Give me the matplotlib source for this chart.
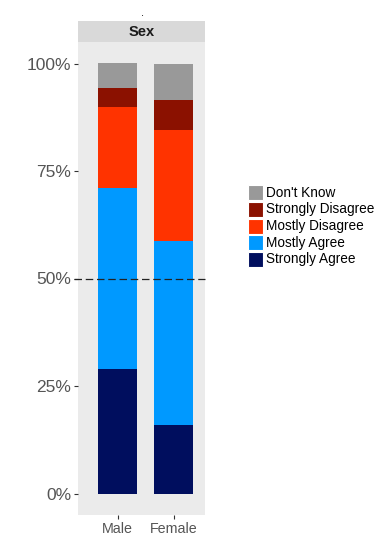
import matplotlib
matplotlib.use('Agg')
import matplotlib.pyplot as plt
from matplotlib.patches import Rectangle
import numpy as np

plt.rcParams['font.family'] = ['Liberation Sans', 'DejaVu Sans']

# data (proportions)
groups = ['Male', 'Female']
responses = ['Strongly Agree', 'Mostly Agree', 'Mostly Disagree',
             'Strongly Disagree', "Don't Know"]
strongly_agree = [0.290, 0.160]
mostly_agree = [0.421, 0.428]
mostly_disagree = [0.187, 0.257]
strongly_disagree = [0.044, 0.070]
dont_know = [0.058, 0.085]
yticks = [0, 0.25, 0.5, 0.75, 1.0]
ytick_labels = ['0%', '25%', '50%', '75%', '100%']

COLORS = {
    'Strongly Agree': '#000E5E',
    'Mostly Agree': '#0099FF',
    'Mostly Disagree': '#FF3300',
    'Strongly Disagree': '#8B1100',
    "Don't Know": '#999999',
}

W, H = 381, 544
fig = plt.figure(figsize=(W / 100, H / 100), dpi=100)

# panel in pixel coords
px_l, px_r, px_t, px_b = 78, 205, 42, 515
ax = fig.add_axes([px_l / W, 1 - px_b / H, (px_r - px_l) / W, (px_b - px_t) / H])
ax.set_facecolor('#EBEBEB')
for s in ax.spines.values():
    s.set_visible(False)

series = [strongly_agree, mostly_agree, mostly_disagree, strongly_disagree, dont_know]
x = np.arange(1, len(groups) + 1)
bottom = np.zeros(len(groups))
for name, vals in zip(responses, series):
    ax.bar(x, vals, 0.7, bottom=bottom, color=COLORS[name], linewidth=0)
    bottom += np.array(vals)

ax.axhline(0.5, color='#222222', linestyle=(0, (6, 3)), linewidth=0.9, clip_on=False,
           xmin=-0.03)

ax.set_xlim(0.295, 2.56)
ax.set_ylim(-0.05, 1.05)
ax.set_yticks(yticks)
ax.set_yticklabels(ytick_labels, fontsize=12.5, color='#555555')
ax.set_xticks(x)
ax.set_xticklabels(groups, fontsize=10.3, color='#555555')
ax.tick_params(axis='both', length=3, width=0.8, color='#333333', pad=2)

# facet strip
strip = fig.add_axes([px_l / W, 1 - px_t / H, (px_r - px_l) / W, 21 / H])
strip.set_facecolor('#D9D9D9')
strip.set_xticks([])
strip.set_yticks([])
for s in strip.spines.values():
    s.set_visible(False)
strip.text(0.5, 0.5, 'Sex', ha='center', va='center', fontsize=10.5,
           fontweight='bold', color='#1A1A1A')

# tiny title
fig.text(142.5 / W, 1 - 13 / H, '.', ha='center', va='center', fontsize=8)

# legend (drawn manually, top entry first)
key_x, key_w, key_h = 248, 15, 15
y0, step = 192.7, 16.65
for i, name in enumerate(reversed(responses)):
    yc = y0 + i * step
    fig.add_artist(Rectangle((key_x / W, 1 - (yc + key_h / 2) / H), key_w / W, key_h / H,
                             transform=fig.transFigure, facecolor=COLORS[name],
                             edgecolor='white', linewidth=0.8))
    fig.text(266 / W, 1 - yc / H, name, ha='left', va='center', fontsize=9.8,
             color='#000000')

plt.savefig('out.png', dpi=100)
